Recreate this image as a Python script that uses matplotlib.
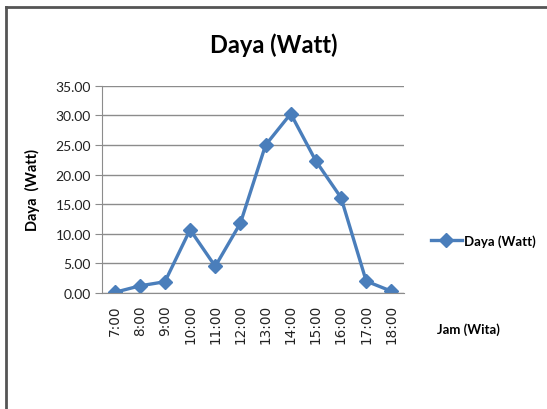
import matplotlib.pyplot as plt
from matplotlib.lines import Line2D

# Data
jam = ['7:00', '8:00', '9:00', '10:00', '11:00', '12:00',
       '13:00', '14:00', '15:00', '16:00', '17:00', '18:00']
daya = [0.1, 1.2, 1.9, 10.7, 4.5, 11.8, 25.0, 30.3, 22.3, 16.1, 2.0, 0.3]
yticks = [0, 5, 10, 15, 20, 25, 30, 35]

blue = '#4a7ebb'
grid = '#8c8c8c'

fig = plt.figure(figsize=(5.47, 4.10), dpi=100)
ax = fig.add_axes([0.1865, 0.283, 0.552, 0.505])

x = list(range(len(jam)))
ax.plot(x, daya, color=blue, lw=2.4, marker='D', ms=7, label='Daya (Watt)')

ax.set_xlim(-0.5, len(jam) - 0.5)
ax.set_ylim(0, 35)
ax.set_yticks(yticks)
ax.set_yticklabels([f'{v:.2f}' for v in yticks], family='Lato', fontsize=10, color='#222222')
ax.set_xticks(x)
ax.set_xticklabels(jam, rotation=90, fontsize=9.8, color='#222222')
ax.tick_params(axis='x', length=0, pad=8)
ax.tick_params(axis='y', length=5, color=grid, pad=3)
ax.yaxis.grid(True, color=grid, lw=1)
ax.set_axisbelow(True)
for s in ['top', 'right']:
    ax.spines[s].set_visible(False)
for s in ['left', 'bottom']:
    ax.spines[s].set_color(grid)

ax.set_ylabel('Daya  (Watt)', family='Lato', fontweight='bold', fontsize=10.5, labelpad=11)

fig.text(0.5, 0.89, 'Daya (Watt)', family='Lato', fontweight='bold', fontsize=17,
         ha='center', va='center')
fig.text(0.857, 0.195, 'Jam (Wita)', family='Lato', fontweight='bold', fontsize=9.5,
         ha='center', va='center')

leg = fig.legend(loc='center left', bbox_to_anchor=(0.775, 0.411), frameon=False,
                 prop={'family': 'Lato', 'weight': 'bold', 'size': 9.5},
                 handlelength=2.4, handletextpad=0.1, borderpad=0)

# outer frame (top and left edges)
fig.add_artist(Line2D([0.011, 1], [0.98, 0.98], color='#555555', lw=2))
fig.add_artist(Line2D([0.011, 0.011], [0, 0.98], color='#555555', lw=2))

fig.savefig('out.png', dpi=100)
